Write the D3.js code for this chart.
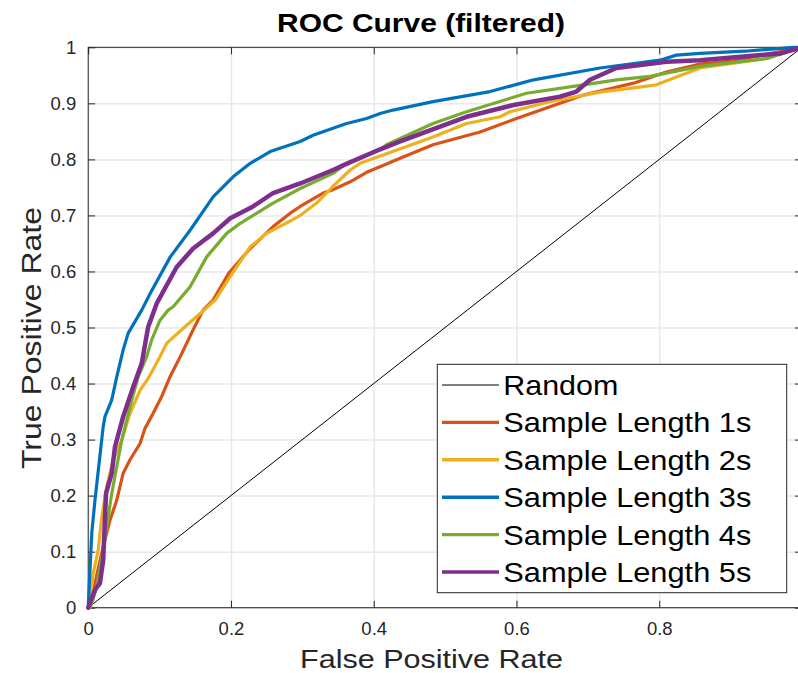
<!DOCTYPE html>
<html>
<head>
<meta charset="utf-8">
<script src="https://cdn.jsdelivr.net/npm/d3@7"></script>
<style>
  body { margin: 0; background: #fff; }
  svg { display: block; font-family: "Liberation Sans", Arial, sans-serif; }
  .tick text { fill: #262626; font-size: 18.5px; }
  .grid line { stroke: #e8e8e8; stroke-width: 1.5; }
  .grid .domain { display: none; }
</style>
</head>
<body>
<div id="app"></div>
<script>
const width = 798,
  height = 673;

// ROC series (false positive rate, true positive rate)
const fpr1s = [0, 0.0095, 0.021, 0.0305, 0.040, 0.049, 0.0586, 0.0726, 0.0796, 0.091, 0.103, 0.1146, 0.129, 0.147, 0.161, 0.175, 0.197, 0.227, 0.259, 0.283, 0.297, 0.329, 0.343, 0.367, 0.390, 0.413, 0.437, 0.483, 0.549, 0.600, 0.647, 0.694, 0.764, 0.810, 0.857, 0.904, 1];
const tpr1s = [0, 0.044, 0.109, 0.156, 0.192, 0.240, 0.264, 0.293, 0.320, 0.347, 0.377, 0.412, 0.448, 0.496, 0.531, 0.549, 0.597, 0.641, 0.680, 0.704, 0.716, 0.740, 0.746, 0.760, 0.777, 0.789, 0.802, 0.826, 0.849, 0.873, 0.894, 0.915, 0.936, 0.956, 0.970, 0.976, 1];

const fpr2s = [0, 0.0025, 0.007, 0.014, 0.019, 0.026, 0.035, 0.047, 0.0586, 0.0726, 0.084, 0.1006, 0.110, 0.138, 0.157, 0.178, 0.199, 0.227, 0.250, 0.283, 0.297, 0.320, 0.343, 0.367, 0.381, 0.413, 0.483, 0.530, 0.577, 0.591, 0.647, 0.717, 0.796, 0.857, 0.951, 0.965, 1];
const tpr2s = [0, 0.014, 0.061, 0.103, 0.162, 0.216, 0.264, 0.299, 0.347, 0.388, 0.409, 0.448, 0.472, 0.504, 0.525, 0.549, 0.591, 0.644, 0.668, 0.690, 0.700, 0.722, 0.752, 0.781, 0.793, 0.808, 0.840, 0.864, 0.876, 0.885, 0.903, 0.920, 0.933, 0.963, 0.980, 0.989, 1];

const fpr3s = [0, 0.005, 0.0095, 0.021, 0.0235, 0.033, 0.040, 0.049, 0.056, 0.075, 0.087, 0.115, 0.143, 0.175, 0.203, 0.227, 0.255, 0.297, 0.315, 0.362, 0.390, 0.409, 0.427, 0.483, 0.563, 0.624, 0.717, 0.801, 0.824, 0.857, 0.920, 0.988, 1];
const tpr3s = [0, 0.133, 0.192, 0.323, 0.341, 0.371, 0.412, 0.460, 0.490, 0.531, 0.561, 0.626, 0.674, 0.733, 0.769, 0.793, 0.814, 0.832, 0.843, 0.864, 0.873, 0.882, 0.888, 0.903, 0.921, 0.942, 0.963, 0.977, 0.986, 0.989, 0.993, 1, 1];

const fpr4s = [0, 0.003, 0.012, 0.021, 0.028, 0.033, 0.040, 0.047, 0.0586, 0.070, 0.082, 0.089, 0.095, 0.1006, 0.112, 0.119, 0.143, 0.166, 0.194, 0.213, 0.259, 0.297, 0.343, 0.362, 0.409, 0.418, 0.483, 0.530, 0.614, 0.694, 0.740, 0.787, 0.857, 0.951, 1];
const tpr4s = [0, 0, 0.037, 0.103, 0.162, 0.204, 0.252, 0.299, 0.359, 0.412, 0.448, 0.478, 0.496, 0.513, 0.531, 0.537, 0.573, 0.626, 0.668, 0.686, 0.722, 0.748, 0.775, 0.793, 0.817, 0.826, 0.864, 0.885, 0.918, 0.933, 0.942, 0.948, 0.966, 0.980, 1];

const fpr5s = [0, 0.0095, 0.0165, 0.021, 0.025, 0.033, 0.0375, 0.049, 0.063, 0.075, 0.084, 0.096, 0.124, 0.147, 0.175, 0.199, 0.231, 0.259, 0.297, 0.343, 0.353, 0.409, 0.437, 0.530, 0.596, 0.661, 0.684, 0.703, 0.740, 0.810, 0.857, 0.969, 1];
const tpr5s = [0, 0.032, 0.044, 0.085, 0.204, 0.240, 0.287, 0.341, 0.394, 0.436, 0.501, 0.543, 0.608, 0.641, 0.668, 0.695, 0.716, 0.740, 0.757, 0.781, 0.787, 0.818, 0.832, 0.876, 0.897, 0.912, 0.921, 0.942, 0.963, 0.974, 0.977, 0.989, 1];

const seriesNames = ["Sample Length 1s", "Sample Length 2s", "Sample Length 3s", "Sample Length 4s", "Sample Length 5s"];
const seriesColors = ["#D95319", "#EDB120", "#0072BD", "#77AC30", "#7E2F8E"];
const xTicks = [0, 0.2, 0.4, 0.6, 0.8, 1];
const yTicks = [0, 0.1, 0.2, 0.3, 0.4, 0.5, 0.6, 0.7, 0.8, 0.9, 1];

const series = [
  [fpr1s, tpr1s],
  [fpr2s, tpr2s],
  [fpr3s, tpr3s],
  [fpr4s, tpr4s],
  [fpr5s, tpr5s]
].map(([xs, ys], i) => ({
  name: seriesNames[i],
  color: seriesColors[i],
  points: xs.map((x, j) => [x, ys[j]])
}));

// plot box (right edge falls just outside the picture, as in the original)
const plotLeft = 88.2,
  plotRight = 802,
  plotTop = 47.3,
  plotBottom = 607.7;

const x = d3.scaleLinear().domain([0, 1]).range([plotLeft, plotRight]);
const y = d3.scaleLinear().domain([0, 1]).range([plotBottom, plotTop]);

const svg = d3
  .select("#app")
  .append("svg")
  .attr("width", width)
  .attr("height", height);

svg.append("rect").attr("width", width).attr("height", height).attr("fill", "#fff");

// grid
svg
  .append("g")
  .attr("class", "grid")
  .attr("transform", `translate(0,${plotBottom})`)
  .call(d3.axisBottom(x).tickValues(xTicks).tickSize(-(plotBottom - plotTop)).tickFormat(""));
svg
  .append("g")
  .attr("class", "grid")
  .attr("transform", `translate(${plotLeft},0)`)
  .call(d3.axisLeft(y).tickValues(yTicks).tickSize(-(plotRight - plotLeft)).tickFormat(""));

// axes with inward ticks
const fmt = (d) => (d === 0 || d === 1 ? d3.format("d")(d) : d3.format(".1f")(d));

const styleAxis = (g) => {
  g.select(".domain").remove();
  g.selectAll(".tick line").attr("stroke", "#262626");
};

svg
  .append("g")
  .attr("transform", `translate(0,${plotBottom})`)
  .call(d3.axisBottom(x).tickValues(xTicks).tickSizeInner(-7).tickSizeOuter(0).tickPadding(14).tickFormat(fmt))
  .call(styleAxis);
svg
  .append("g")
  .attr("transform", `translate(${plotLeft},0)`)
  .call(d3.axisLeft(y).tickValues(yTicks).tickSizeInner(-7).tickSizeOuter(0).tickPadding(12).tickFormat(fmt))
  .call(styleAxis);
svg
  .append("g")
  .attr("transform", `translate(0,${plotTop})`)
  .call(d3.axisTop(x).tickValues(xTicks).tickSizeInner(-7).tickSizeOuter(0).tickFormat(""))
  .call(styleAxis);
svg
  .append("g")
  .attr("transform", `translate(${plotRight},0)`)
  .call(d3.axisRight(y).tickValues(yTicks).tickSizeInner(-7).tickSizeOuter(0).tickFormat(""))
  .call(styleAxis);

svg
  .append("rect")
  .attr("x", plotLeft)
  .attr("y", plotTop)
  .attr("width", plotRight - plotLeft)
  .attr("height", plotBottom - plotTop)
  .attr("fill", "none")
  .attr("stroke", "#262626")
  .attr("stroke-width", 1);

// curves
const line = d3
  .line()
  .x((d) => x(d[0]))
  .y((d) => y(d[1]));

svg
  .append("path")
  .datum([[0, 0], [1, 1]])
  .attr("d", line)
  .attr("fill", "none")
  .attr("stroke", "#000")
  .attr("stroke-width", 1);

svg
  .selectAll("path.roc")
  .data(series)
  .join("path")
  .attr("class", "roc")
  .attr("d", (d) => line(d.points))
  .attr("fill", "none")
  .attr("stroke", (d) => d.color)
  .attr("stroke-width", (d, i) => (i === 4 ? 4.5 : 3.2))
  .attr("stroke-linejoin", "round")
  .attr("stroke-linecap", "round");

// title and axis labels
svg
  .append("text")
  .attr("x", 421)
  .attr("y", 31.7)
  .attr("text-anchor", "middle")
  .attr("font-size", 25)
  .attr("font-weight", "bold")
  .attr("textLength", 288)
  .attr("lengthAdjust", "spacingAndGlyphs")
  .text("ROC Curve (filtered)");

svg
  .append("text")
  .attr("x", 431.5)
  .attr("y", 668)
  .attr("text-anchor", "middle")
  .attr("font-size", 26.5)
  .attr("fill", "#262626")
  .attr("textLength", 263)
  .attr("lengthAdjust", "spacingAndGlyphs")
  .text("False Positive Rate");

svg
  .append("text")
  .attr("transform", "translate(41,338) rotate(-90)")
  .attr("text-anchor", "middle")
  .attr("font-size", 27)
  .attr("fill", "#262626")
  .attr("textLength", 262)
  .attr("lengthAdjust", "spacingAndGlyphs")
  .text("True Positive Rate");

// legend
const legendItems = [{ name: "Random", color: "#000", w: 1, len: 115 }].concat(
  series.map((d) => ({ name: d.name, color: d.color, w: 3.4, len: 248 }))
);

const legend = svg.append("g");
legend
  .append("rect")
  .attr("x", 437.3)
  .attr("y", 364.3)
  .attr("width", 349.4)
  .attr("height", 228.4)
  .attr("fill", "#fff")
  .attr("stroke", "#262626")
  .attr("stroke-width", 1);

const rows = legend
  .selectAll("g.row")
  .data(legendItems)
  .join("g")
  .attr("class", "row")
  .attr("transform", (d, i) => `translate(0,${385 + i * 37.4})`);

rows
  .append("line")
  .attr("x1", 442)
  .attr("x2", 499)
  .attr("stroke", (d) => d.color)
  .attr("stroke-width", (d) => d.w);

rows
  .append("text")
  .attr("x", 503.3)
  .attr("y", 10)
  .attr("font-size", 28)
  .attr("fill", "#000")
  .attr("textLength", (d) => d.len)
  .attr("lengthAdjust", "spacingAndGlyphs")
  .text((d) => d.name);
</script>
</body>
</html>
